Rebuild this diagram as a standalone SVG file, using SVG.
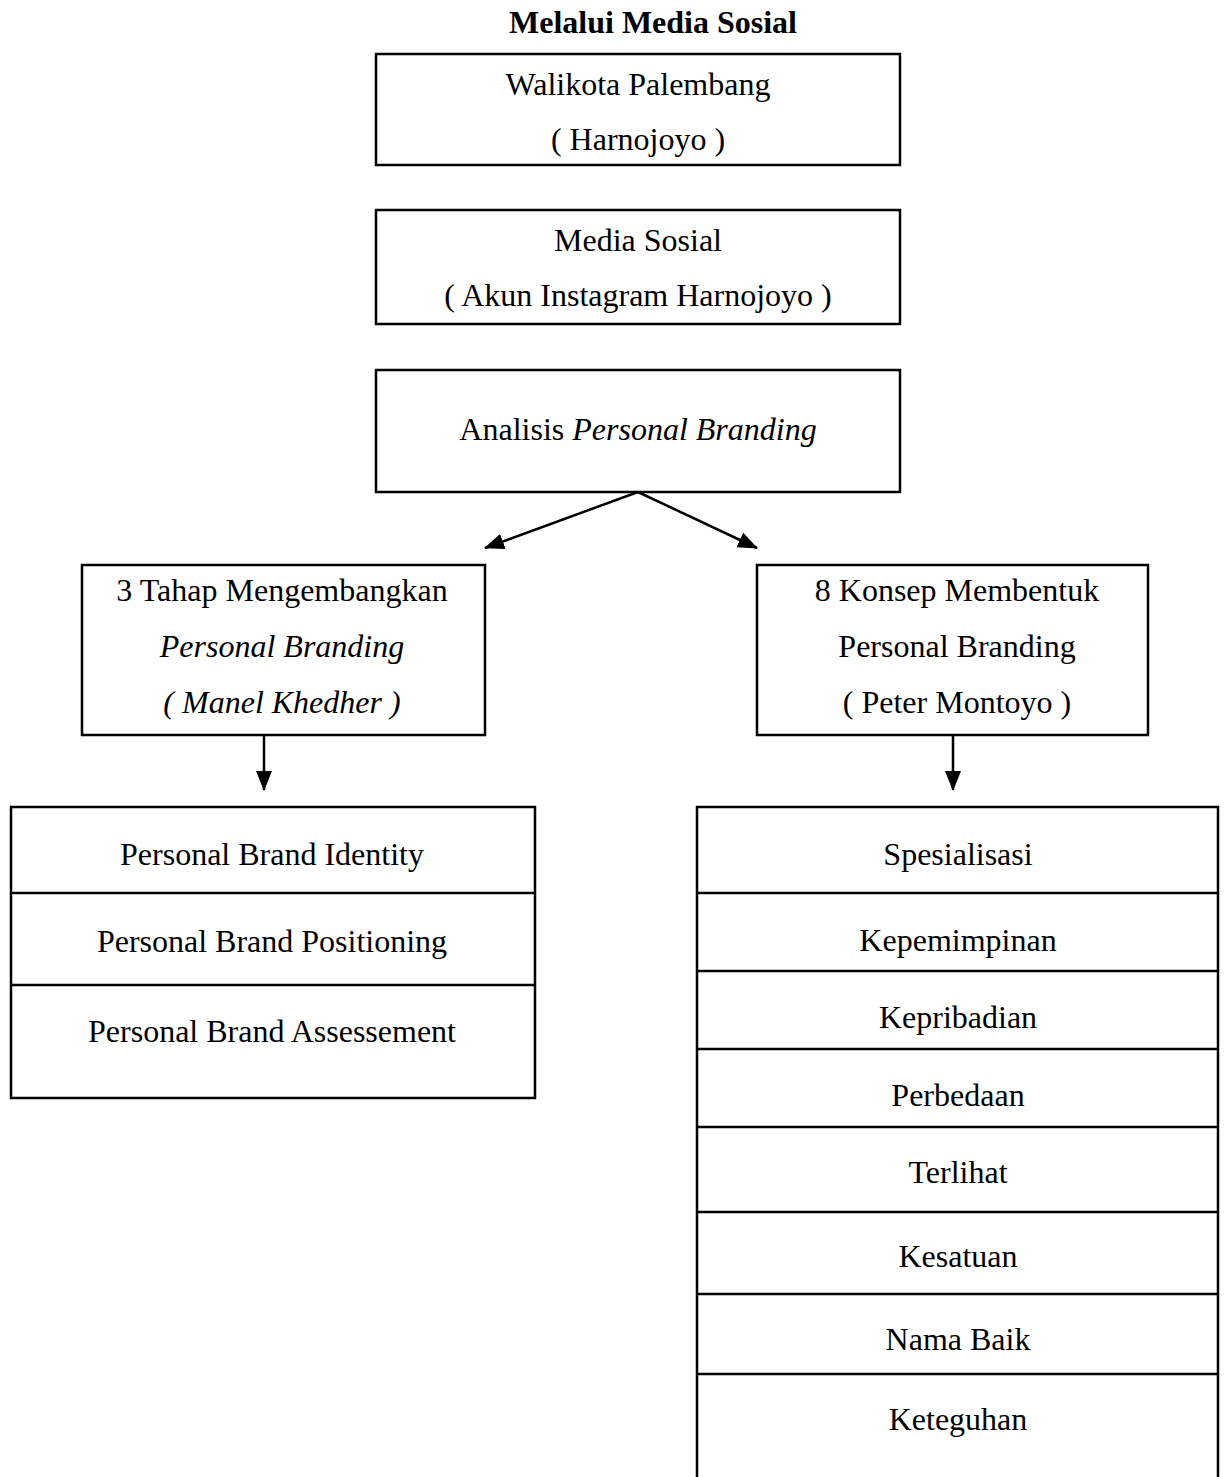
<svg xmlns="http://www.w3.org/2000/svg" width="1224" height="1477" viewBox="0 0 1224 1477">
  <defs>
    <style>
      .box { fill: #ffffff; stroke: #000000; stroke-width: 2.5; }
      .ln { fill: none; stroke: #000000; stroke-width: 2.5; }
      .t { font-family: "Liberation Serif", "Times New Roman", serif; font-size: 32px; fill: #000000; text-anchor: middle; }
      .b { font-weight: bold; }
      .i { font-style: italic; }
      .conn { fill: none; stroke: #000000; stroke-width: 2.5; }
    </style>
    <marker id="ah" markerUnits="userSpaceOnUse" markerWidth="22" markerHeight="18" refX="19" refY="8" orient="auto">
      <path d="M0,0 L20,8 L0,16 z" fill="#000000"/>
    </marker>
  </defs>
  <rect width="1224" height="1477" fill="#ffffff"/>

  <text class="t b" x="653" y="33">Melalui Media Sosial</text>

  <g id="walikota">
    <rect class="box" x="376" y="54" width="524" height="111"/>
    <text class="t" x="638" y="95">Walikota Palembang</text>
    <text class="t" x="638" y="150">( Harnojoyo )</text>
  </g>

  <g id="media-sosial">
    <rect class="box" x="376" y="210" width="524" height="114"/>
    <text class="t" x="638" y="251">Media Sosial</text>
    <text class="t" x="638" y="306">( Akun Instagram Harnojoyo )</text>
  </g>

  <g id="analisis">
    <rect class="box" x="376" y="370" width="524" height="122"/>
    <text class="t" x="638" y="440">Analisis <tspan class="i">Personal Branding</tspan></text>
  </g>

  <g id="tahap">
    <rect class="box" x="82" y="565" width="403" height="170"/>
    <text class="t" x="282" y="601">3 Tahap Mengembangkan</text>
    <text class="t i" x="282" y="657">Personal Branding</text>
    <text class="t i" x="282" y="713">( Manel Khedher )</text>
  </g>

  <g id="konsep">
    <rect class="box" x="757" y="565" width="391" height="170"/>
    <text class="t" x="957" y="601">8 Konsep Membentuk</text>
    <text class="t" x="957" y="657">Personal Branding</text>
    <text class="t" x="957" y="713">( Peter Montoyo )</text>
  </g>

  <g id="tahap-list">
    <rect class="box" x="11" y="807" width="524" height="291"/>
    <line class="ln" x1="11" y1="893" x2="535" y2="893"/>
    <line class="ln" x1="11" y1="985" x2="535" y2="985"/>
    <text class="t" x="272" y="865">Personal Brand Identity</text>
    <text class="t" x="272" y="952">Personal Brand Positioning</text>
    <text class="t" x="272" y="1042">Personal Brand Assessement</text>
  </g>

  <g id="konsep-list">
    <path class="ln" d="M697,1477 L697,807 L1218,807 L1218,1477"/>
    <line class="ln" x1="697" y1="893" x2="1218" y2="893"/>
    <line class="ln" x1="697" y1="971" x2="1218" y2="971"/>
    <line class="ln" x1="697" y1="1049" x2="1218" y2="1049"/>
    <line class="ln" x1="697" y1="1127" x2="1218" y2="1127"/>
    <line class="ln" x1="697" y1="1212" x2="1218" y2="1212"/>
    <line class="ln" x1="697" y1="1294" x2="1218" y2="1294"/>
    <line class="ln" x1="697" y1="1374" x2="1218" y2="1374"/>
    <text class="t" x="958" y="865">Spesialisasi</text>
    <text class="t" x="958" y="951">Kepemimpinan</text>
    <text class="t" x="958" y="1028">Kepribadian</text>
    <text class="t" x="958" y="1106">Perbedaan</text>
    <text class="t" x="958" y="1183">Terlihat</text>
    <text class="t" x="958" y="1267">Kesatuan</text>
    <text class="t" x="958" y="1350">Nama Baik</text>
    <text class="t" x="958" y="1430">Keteguhan</text>
  </g>

  <g id="connectors">
    <line class="conn" x1="638" y1="492" x2="485" y2="548" marker-end="url(#ah)"/>
    <line class="conn" x1="638" y1="492" x2="757" y2="548" marker-end="url(#ah)"/>
    <line class="conn" x1="264" y1="735" x2="264" y2="790" marker-end="url(#ah)"/>
    <line class="conn" x1="953" y1="735" x2="953" y2="790" marker-end="url(#ah)"/>
  </g>
</svg>
